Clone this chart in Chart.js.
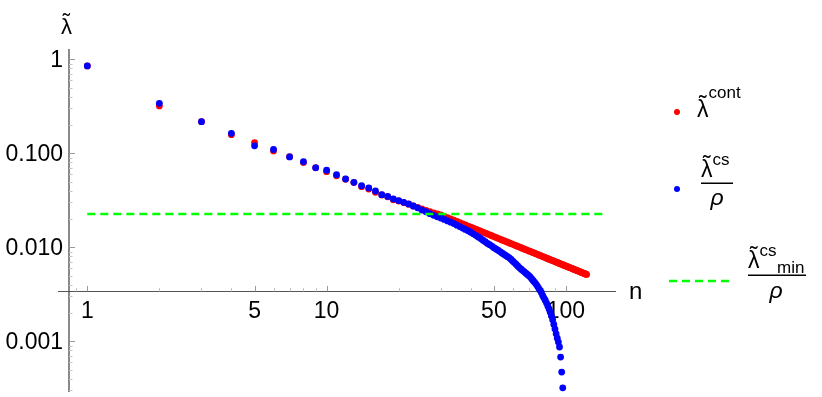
<!DOCTYPE html>
<html>
<head>
<meta charset="utf-8">
<script src="https://cdn.jsdelivr.net/npm/chart.js@4.4.0/dist/chart.umd.min.js"></script>
<style>
html, body { margin: 0; padding: 0; background: #fff; }
</style>
</head>
<body>
<canvas id="chart" width="822" height="397"></canvas>
<script>
// values
const lambdaCont = [
  0.85, 0.319, 0.217, 0.158, 0.130, 0.106, 0.092, 0.0797, 0.0700, 0.0637,
  0.0577, 0.0530, 0.0488, 0.0441, 0.0417, 0.0385, 0.0360, 0.0344, 0.0320, 0.0311,
  0.0299, 0.0287, 0.0275, 0.0266, 0.0256, 0.0247, 0.0239, 0.0232, 0.0226, 0.0221,
  0.02137, 0.02067, 0.02002, 0.01940, 0.01883, 0.01829, 0.01777, 0.01729, 0.01682, 0.01639,
  0.01597, 0.01558, 0.01520, 0.01484, 0.01450, 0.01417, 0.01386, 0.01356, 0.01327, 0.01299,
  0.01273, 0.01247, 0.01223, 0.01199, 0.01177, 0.01155, 0.01134, 0.01113, 0.01094, 0.01075,
  0.01057, 0.01039, 0.01022, 0.01005, 0.00989, 0.00973, 0.00958, 0.00943, 0.00929, 0.00915,
  0.00902, 0.00889, 0.00876, 0.00864, 0.00852, 0.00841, 0.00829, 0.00818, 0.00807, 0.00797,
  0.00787, 0.00777, 0.00767, 0.00757, 0.00748, 0.00739, 0.00730, 0.00722, 0.00713, 0.00705,
  0.00697, 0.00689, 0.00681, 0.00674, 0.00666, 0.00659, 0.00652, 0.00645, 0.00638, 0.00632,
  0.00625, 0.00619, 0.00613, 0.00607, 0.00601, 0.00595, 0.00589, 0.00583, 0.00578, 0.00572,
  0.00567, 0.00562, 0.00557, 0.00552, 0.00546, 0.00542, 0.00537, 0.00532, 0.00527, 0.00523,
  0.00518, 0.00514
]
const lambdaCs = [
  0.85, 0.340, 0.217, 0.163, 0.120, 0.110, 0.0914, 0.0814, 0.0704, 0.0660,
  0.0592, 0.0533, 0.0491, 0.0452, 0.0428, 0.0397, 0.0363, 0.0348, 0.0327, 0.0313,
  0.0301, 0.0289, 0.0275, 0.0263, 0.0249, 0.0239, 0.0228, 0.0219, 0.0211, 0.0205,
  0.0198, 0.0191, 0.0185, 0.0179, 0.0172, 0.0166, 0.0160, 0.0155, 0.0150, 0.0145,
  0.0139, 0.0134, 0.0129, 0.0124, 0.0119, 0.01145, 0.0110, 0.01066, 0.0103, 0.0099,
  0.0096, 0.0093, 0.0090, 0.0087, 0.00844, 0.00819, 0.00795, 0.00773, 0.00743, 0.00712,
  0.00683, 0.00656, 0.0063, 0.00605, 0.00585, 0.00566, 0.00548, 0.00531, 0.00514, 0.00499,
  0.00482, 0.00461, 0.00442, 0.00424, 0.00406, 0.00387, 0.00366, 0.00347, 0.00329, 0.00305,
  0.00288, 0.00272, 0.00255, 0.00238, 0.00221, 0.00204, 0.00187, 0.0017, 0.00151, 0.00135,
  0.0012, 0.00108, 0.00098, 0.00087, 0.00068, 0.00047, 0.00032
]
const lambdaMin = 0.0226
const minLineN = [1, 148]

const xTicks = [1, 5, 10, 50, 100]
const xTickLabels = ["1", "5", "10", "50", "100"]
const yTicks = [1, 0.1, 0.01, 0.001]
const yTickLabels = ["1", "0.100", "0.010", "0.001"]
const xAxisAt = 0.00343

const font = '"Liberation Sans", Arial, sans-serif'

function points(values) {
  return values.map((v, i) => ({ x: i + 1, y: v }))
}

function lam(ctx, x, base, size) {
  ctx.font = size + "px " + font
  ctx.textAlign = "left"
  ctx.fillText("λ", x, base)
  const w = ctx.measureText("λ").width
  ctx.textAlign = "center"
  ctx.fillText("˜", x + w / 2, base - size * 0.22)
  ctx.textAlign = "left"
  return w
}

const axesPlugin = {
  id: "mmaAxes",
  beforeDatasetsDraw(chart) {
    const ctx = chart.ctx
    const xs = chart.scales.x, ys = chart.scales.y, area = chart.chartArea
    const y0 = Math.round(ys.getPixelForValue(xAxisAt)) + 0.5
    const x0 = area.left
    ctx.save()

    // vertical axis
    ctx.strokeStyle = "#8a8a8a"
    ctx.lineWidth = 2
    ctx.beginPath()
    ctx.moveTo(x0, area.top)
    ctx.lineTo(x0, area.bottom)
    ctx.stroke()
    ctx.lineWidth = 1
    for (let e = -4; e <= 0; e++) {
      for (let k = 1; k <= 9; k++) {
        const v = k * Math.pow(10, e)
        if (v < ys.min || v > ys.max) continue
        const py = Math.round(ys.getPixelForValue(v)) + 0.5
        ctx.strokeStyle = k == 1 ? "#999" : "#c4c4c4"
        ctx.beginPath()
        ctx.moveTo(x0, py)
        ctx.lineTo(x0 + (k == 1 ? 6 : 3.5), py)
        ctx.stroke()
      }
    }

    // horizontal axis
    ctx.strokeStyle = "#555"
    ctx.beginPath()
    ctx.moveTo(x0 - 11, y0)
    ctx.lineTo(area.right, y0)
    ctx.stroke()
    for (let e = -1; e <= 2; e++) {
      for (let k = 1; k <= 9; k++) {
        const v = k * Math.pow(10, e)
        if (v < xs.min || v > 100) continue
        const px = Math.round(xs.getPixelForValue(v)) + 0.5
        const major = xTicks.includes(v)
        ctx.strokeStyle = major ? "#999" : "#c4c4c4"
        ctx.beginPath()
        ctx.moveTo(px, y0)
        ctx.lineTo(px, y0 - (major ? 5.5 : 3.5))
        ctx.stroke()
      }
    }

    // tick labels
    ctx.fillStyle = "#000"
    ctx.font = "23px " + font
    ctx.textBaseline = "middle"
    ctx.textAlign = "right"
    yTicks.forEach((v, i) => {
      ctx.fillText(yTickLabels[i], x0 - 6, ys.getPixelForValue(v) + 1)
    })
    ctx.textAlign = "center"
    ctx.textBaseline = "top"
    xTicks.forEach((v, i) => {
      ctx.fillText(xTickLabels[i], xs.getPixelForValue(v), y0 + 9)
    })

    // axis titles
    ctx.textAlign = "left"
    ctx.textBaseline = "alphabetic"
    ctx.font = "24px " + font
    ctx.fillText("n", 629, 299)
    lam(ctx, 61, 34, 22)
    ctx.restore()
  },
  afterDraw(chart) {
    const ctx = chart.ctx
    ctx.save()
    ctx.fillStyle = "#000"
    ctx.textBaseline = "alphabetic"

    // red entry
    ctx.fillStyle = "#ff0000"
    ctx.beginPath(); ctx.arc(677, 112, 3, 0, Math.PI * 2); ctx.fill()
    ctx.fillStyle = "#000"
    let w = lam(ctx, 697, 117, 23)
    ctx.font = "17px " + font
    ctx.fillText("cont", 697 + w, 98)

    // blue entry
    ctx.fillStyle = "#0000ff"
    ctx.beginPath(); ctx.arc(677, 189, 3, 0, Math.PI * 2); ctx.fill()
    ctx.fillStyle = "#000"
    w = lam(ctx, 701, 177, 23)
    ctx.font = "17px " + font
    ctx.fillText("cs", 701 + w, 165)
    ctx.fillRect(701, 182.5, 32, 1.5)
    ctx.font = "italic 23px " + font
    ctx.textAlign = "center"
    ctx.fillText("ρ", 717, 205)
    ctx.textAlign = "left"

    // green entry
    ctx.strokeStyle = "#00ff00"
    ctx.lineWidth = 2.5
    ctx.setLineDash([8, 5])
    ctx.beginPath(); ctx.moveTo(669, 281); ctx.lineTo(730, 281); ctx.stroke()
    ctx.setLineDash([])
    w = lam(ctx, 748, 268, 23)
    ctx.font = "17px " + font
    ctx.fillText("cs", 748 + w, 256)
    ctx.fillText("min", 777, 273)
    ctx.fillRect(748, 274.5, 58, 1.5)
    ctx.font = "italic 23px " + font
    ctx.textAlign = "center"
    ctx.fillText("ρ", 776, 298)
    ctx.restore()
  }
}

new Chart(document.getElementById("chart"), {
  type: "scatter",
  data: {
    datasets: [
      {
        label: "min",
        type: "line",
        data: minLineN.map(n => ({ x: n, y: lambdaMin })),
        borderColor: "#00ff00",
        borderWidth: 2.5,
        borderDash: [8, 5],
        pointRadius: 0,
        order: 0
      },
      {
        label: "cs",
        data: points(lambdaCs),
        backgroundColor: "#0000ff",
        borderWidth: 0,
        pointRadius: 3.4,
        order: 1
      },
      {
        label: "cont",
        data: points(lambdaCont),
        backgroundColor: "#ff0000",
        borderWidth: 0,
        pointRadius: 3.4,
        order: 2
      }
    ]
  },
  options: {
    responsive: false,
    animation: false,
    layout: { padding: { left: 69, right: 206, top: 49, bottom: 5 } },
    plugins: { legend: { display: false }, tooltip: { enabled: false } },
    scales: {
      x: { type: "logarithmic", min: 0.8385, max: 161.9, bounds: "data", display: false },
      y: { type: "logarithmic", min: 0.0002888, max: 1.287, bounds: "data", display: false }
    }
  },
  plugins: [axesPlugin]
})
</script>
</body>
</html>
